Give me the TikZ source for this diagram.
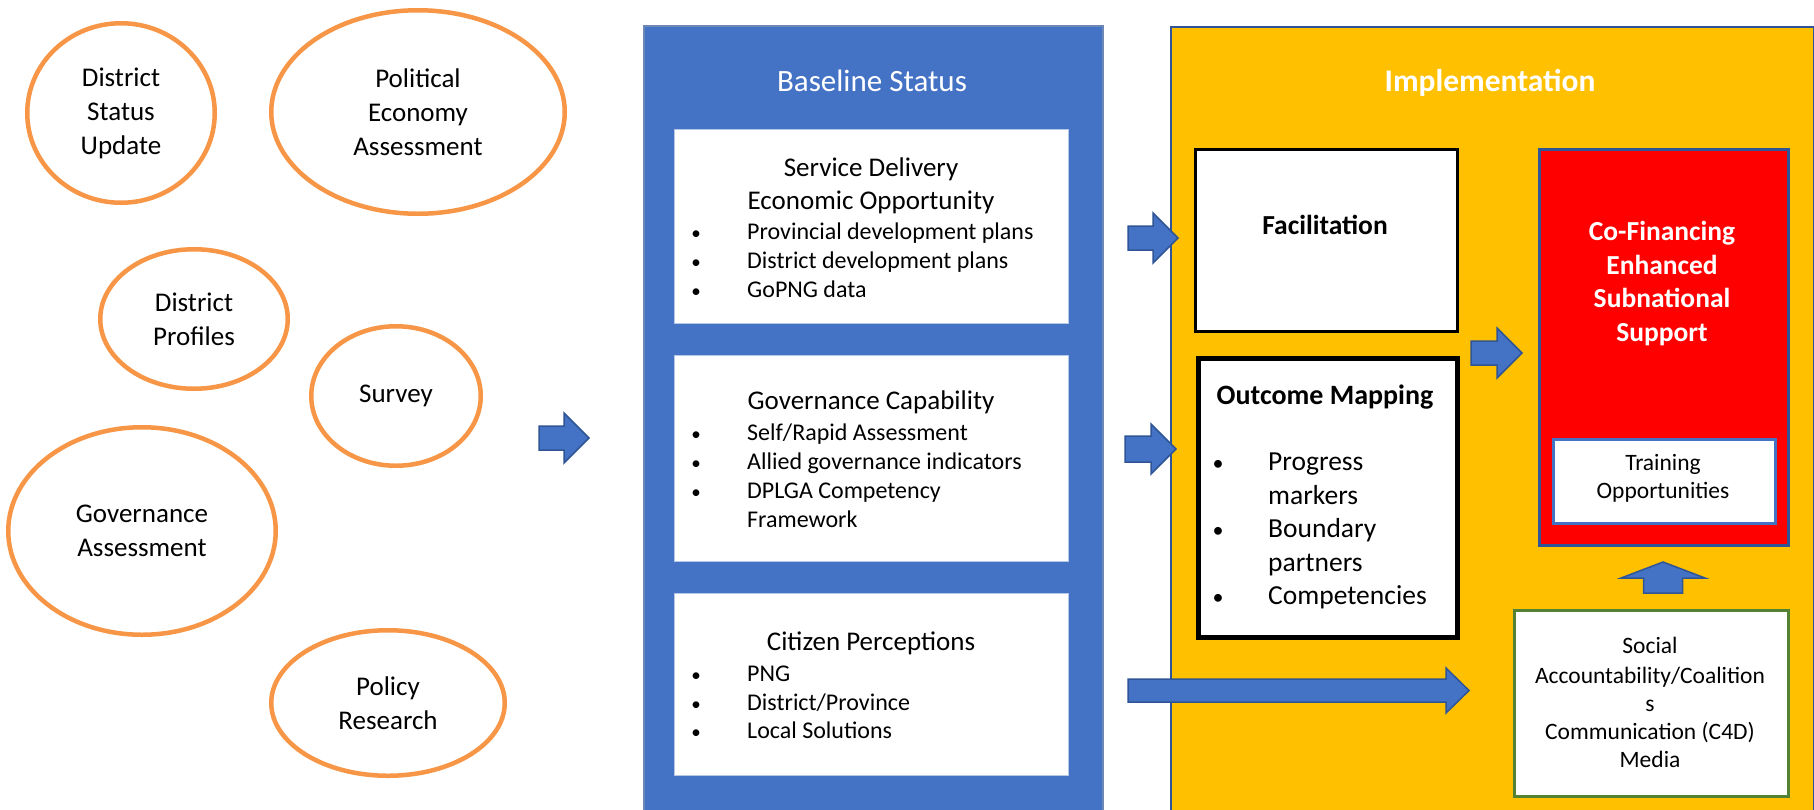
\documentclass[tikz,border=0pt]{standalone}
\usepackage{fontspec}
\setmainfont{Carlito}
\usetikzlibrary{shapes.geometric,calc}
\definecolor{bfill}{HTML}{4472C4}
\definecolor{bedge}{HTML}{2F5597}
\definecolor{yfill}{HTML}{FFC000}
\definecolor{oedge}{HTML}{F79646}
\definecolor{gedge}{HTML}{548235}
\definecolor{rfill}{HTML}{FF0000}
\newcommand\fs[2]{\fontsize{#1}{#2}\selectfont}
% horizontal block arrow: start, tip, shaft half, head half, head length
\newcommand\harrow[5]{\draw[barrow] ($(#1)+(0,-#3)$) -- ($(#2)+(-#5,-#3)$) -- ($(#2)+(-#5,-#4)$) -- (#2) -- ($(#2)+(-#5,#4)$) -- ($(#2)+(-#5,#3)$) -- ($(#1)+(0,#3)$) -- cycle;}
\begin{document}
\begin{tikzpicture}[x=1pt,y=-1pt,
  ell/.style={ellipse, draw=oedge, line width=4.5pt, fill=white, inner sep=0pt, align=center, font=\fs{27}{34}},
  panel/.style={rectangle, inner sep=0pt, anchor=north west},
  hd/.style={inner sep=0pt, anchor=base, font=\fs{27}{33}},
  itm/.style={inner sep=0pt, anchor=base west, font=\fs{24}{29}},
  bul/.style={inner sep=0pt, anchor=base, font=\fs{19}{29}},
  bhd/.style={inner sep=0pt, anchor=base, font=\fs{27.5}{33}\bfseries},
  omitm/.style={inner sep=0pt, anchor=base west, font=\fs{27.5}{33}},
  ombul/.style={inner sep=0pt, anchor=base, font=\fs{22}{33}},
  sm/.style={inner sep=0pt, anchor=base, font=\fs{23.5}{29}},
  barrow/.style={fill=bfill, draw=bedge, line width=1.5pt, line join=miter}
]
\clip (0,0) rectangle (1814,809);
\fill[white] (0,0) rectangle (1814,809);

% ellipses
\node[ell, minimum width=187.5pt, minimum height=179.5pt] (dsu) at (121,113) {District\\Status\\Update};
\node[ell, minimum width=293.5pt, minimum height=203.5pt] (pea) at (418,112) {Political\\Economy\\Assessment};
\node[ell, minimum width=187.5pt, minimum height=139.5pt] (dp) at (194,319) {District\\Profiles};
\node[ell, minimum width=169.5pt, minimum height=139.5pt] (sv) at (396,396) {Survey};
\node[ell, minimum width=267.5pt, minimum height=207.5pt] (ga) at (142,531) {Governance\\Assessment};
\node[ell, minimum width=233.5pt, minimum height=145.5pt] (pr) at (388,703) {Policy\\Research};

% baseline panel
\node[panel, fill=bfill, draw=bedge!70!white, line width=1.5pt, minimum width=459pt, minimum height=820pt] (base) at (643,25) {};
\node[inner sep=0pt, anchor=base, font=\fs{31}{37}, text=white] (basettl) at (872,91.7) {Baseline Status};
\node[panel, fill=white, draw=bfill!40!white, line width=1pt, minimum width=394pt, minimum height=194pt] (b1) at (674,129) {};
\node[panel, fill=white, draw=bfill!40!white, line width=1pt, minimum width=394pt, minimum height=206pt] (b2) at (674,355) {};
\node[panel, fill=white, draw=bfill!40!white, line width=1pt, minimum width=394pt, minimum height=182pt] (b3) at (674,593) {};

\node[hd] (b1h1) at (871,176.7) {Service Delivery};
\node[hd] (b1h2) at (871,209) {Economic Opportunity};
\node[bul] (b1u1) at (696,239.3) {•};
\node[itm] (b1i1) at (747,239.3) {Provincial development plans};
\node[bul] (b1u2) at (696,268.3) {•};
\node[itm] (b1i2) at (747,268.3) {District development plans};
\node[bul] (b1u3) at (696,297.7) {•};
\node[itm] (b1i3) at (747,297.7) {GoPNG data};

\node[hd] (b2h1) at (871,409.3) {Governance Capability};
\node[bul] (b2u1) at (696,440.7) {•};
\node[itm] (b2i1) at (747,440.7) {Self/Rapid Assessment};
\node[bul] (b2u2) at (696,469.3) {•};
\node[itm] (b2i2) at (747,469.3) {Allied governance indicators};
\node[bul] (b2u3) at (696,498.7) {•};
\node[itm] (b2i3) at (747,498.7) {DPLGA Competency};
\node[itm] (b2i4) at (747,527.3) {Framework};

\node[hd] (b3h1) at (871,650.7) {Citizen Perceptions};
\node[bul] (b3u1) at (696,681) {•};
\node[itm] (b3i1) at (747,681) {PNG};
\node[bul] (b3u2) at (696,710) {•};
\node[itm] (b3i2) at (747,710) {District/Province};
\node[bul] (b3u3) at (696,738.7) {•};
\node[itm] (b3i3) at (747,738.7) {Local Solutions};

% implementation panel
\node[panel, fill=yfill, draw=bedge, line width=2pt, minimum width=643pt, minimum height=820pt] (impl) at (1170,26) {};
\node[inner sep=0pt, anchor=base, font=\fs{31.5}{37}\bfseries, text=white] (implttl) at (1490,91.5) {Implementation};

\node[panel, fill=white, draw=black, line width=2.5pt, minimum width=262pt, minimum height=182pt] (fac) at (1194,148) {};
\node[bhd] (factxt) at (1325,234) {Facilitation};

\node[panel, fill=white, draw=black, line width=5pt, minimum width=259pt, minimum height=279pt] (om) at (1195.5,355.5) {};
\node[bhd, font=\fs{28}{33}\bfseries] (omh) at (1325,404) {Outcome Mapping};
\node[ombul] (omu1) at (1218,470.7) {•};
\node[omitm] (omi1) at (1268,470.7) {Progress};
\node[omitm] (omi2) at (1268,504) {markers};
\node[ombul] (omu2) at (1218,537.7) {•};
\node[omitm] (omi3) at (1268,537.7) {Boundary};
\node[omitm] (omi4) at (1268,571.7) {partners};
\node[ombul] (omu3) at (1218,604.3) {•};
\node[omitm] (omi5) at (1268,604.3) {Competencies};

\node[panel, fill=rfill, draw=bedge, line width=2.5pt, minimum width=249pt, minimum height=396pt] (cof) at (1538,148) {};
\node[bhd, text=white] (cof1) at (1662,240.7) {Co-Financing};
\node[bhd, text=white] (cof2) at (1662,274) {Enhanced};
\node[bhd, text=white] (cof3) at (1662,307.3) {Subnational};
\node[bhd, text=white] (cof4) at (1662,341.7) {Support};

\node[panel, fill=white, draw=bfill, line width=2.5pt, minimum width=222pt, minimum height=84pt] (trn) at (1552,438) {};
\node[sm] (trn1) at (1663,470) {Training};
\node[sm] (trn2) at (1663,498.3) {Opportunities};

\node[panel, fill=white, draw=gedge, line width=2.5pt, minimum width=274pt, minimum height=186pt] (soc) at (1513,609) {};
\node[sm] (soc1) at (1650,653) {Social};
\node[sm] (soc2) at (1650,683) {Accountability/Coalition};
\node[sm] (soc3) at (1650,711) {s};
\node[sm] (soc4) at (1650,739) {Communication (C4D)};
\node[sm] (soc5) at (1650,767) {Media};

% arrows
\coordinate (a0s) at (539,438);  \coordinate (a0t) at (589,438);
\coordinate (a1s) at (1128,238); \coordinate (a1t) at (1178,238);
\coordinate (a2s) at (1125,449); \coordinate (a2t) at (1176,449);
\coordinate (a3s) at (1128,690.5); \coordinate (a3t) at (1469,690.5);
\coordinate (a4s) at (1471,353); \coordinate (a4t) at (1522,353);
\coordinate (a5s) at (1663,593); \coordinate (a5t) at (1663,562);
\harrow{a0s}{a0t}{12}{25}{25}
\harrow{a1s}{a1t}{12}{25}{25}
\harrow{a2s}{a2t}{13}{25}{25}
\harrow{a3s}{a3t}{11.5}{22.5}{23}
\harrow{a4s}{a4t}{12}{25}{25}
\draw[barrow] ($(a5s)+(-19.5,0)$) -- ($(a5t)+(-19.5,16)$) -- ($(a5t)+(-42,16)$) -- (a5t) -- ($(a5t)+(42,16)$) -- ($(a5t)+(19.5,16)$) -- ($(a5s)+(19.5,0)$) -- cycle;
\end{tikzpicture}
\end{document}
